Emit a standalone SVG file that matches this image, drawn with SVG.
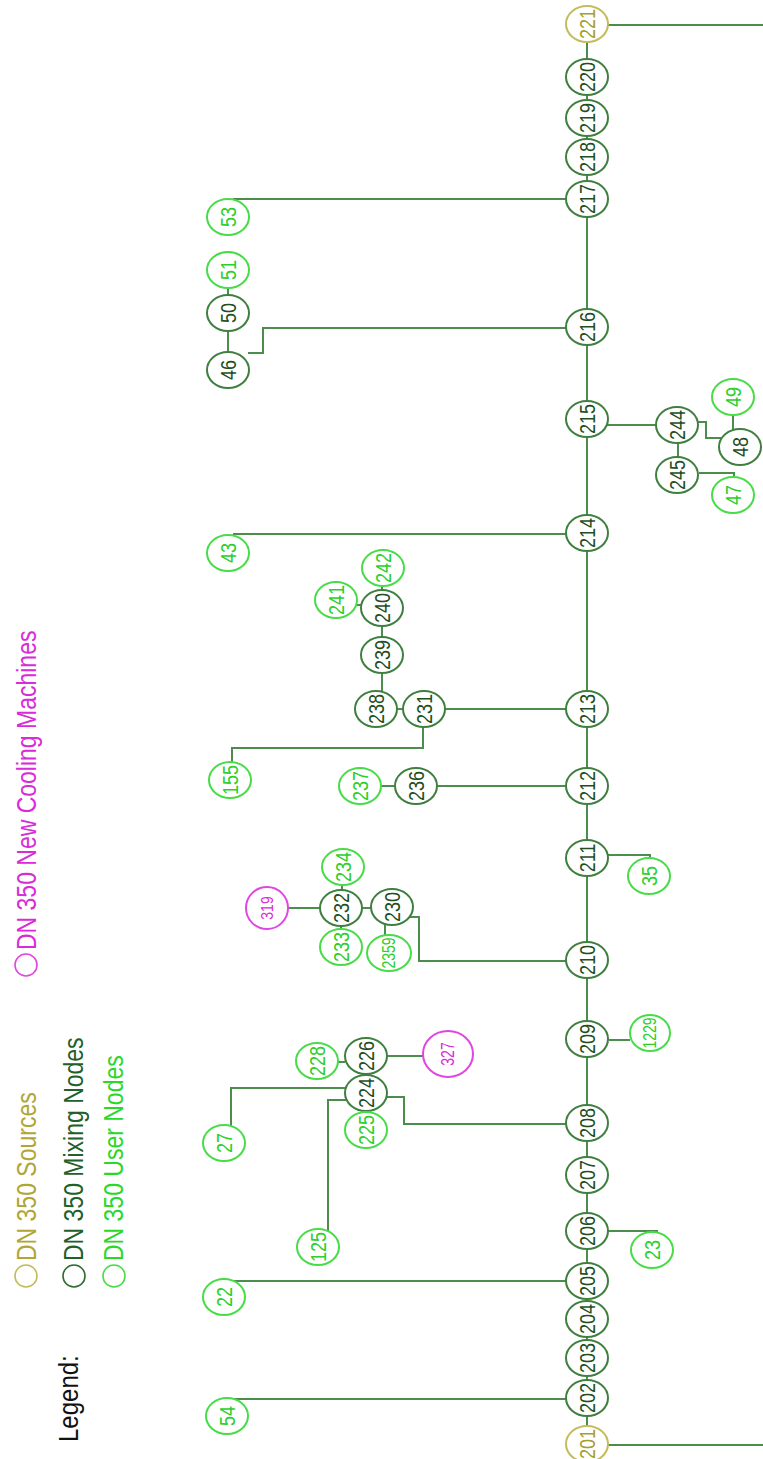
<svg xmlns="http://www.w3.org/2000/svg" width="763" height="1459" viewBox="0 0 763 1459">
<style>
  text { font-family: "Liberation Sans", Arial, sans-serif; }
  .node ellipse { fill: #ffffff; stroke-width: 2; }
  .node text { font-size: 18px; text-anchor: middle; dominant-baseline: central; }
  .node text.sm { font-size: 14px; }
  .m ellipse { stroke: #3f7f3f; }
  .m text { fill: #1f4f1f; }
  .u ellipse { stroke: #48dc48; }
  .u text { fill: #2ccf2c; }
  .s ellipse { stroke: #c4bc5a; }
  .s text { fill: #a89e2c; }
  .c ellipse { stroke: #e046e0; }
  .c text { fill: #d82cd8; }
  #connectors path { fill: none; stroke: #4c8c4c; stroke-width: 2; }
  .leg { font-size: 23px; }
  .legc { fill: none; stroke-width: 1.6; }
</style>

<g id="connectors">
  <path d="M587 24 V1444"/>
  <path d="M608 25 H763"/>
  <path d="M608 1445 H763"/>
  <path d="M566 199 H233"/>
  <path d="M566 328 H263 V353 H248"/>
  <path d="M228 352 V331"/>
  <path d="M228 295 V288"/>
  <path d="M607 425 H656"/>
  <path d="M697 422 H706 V438 H721"/>
  <path d="M733 430 V414"/>
  <path d="M678 443 V457"/>
  <path d="M699 473 H734 V478"/>
  <path d="M566 534 H233"/>
  <path d="M566 709 H445"/>
  <path d="M403 709 H397"/>
  <path d="M382 673 V692"/>
  <path d="M382 637 V626"/>
  <path d="M382 591 V585"/>
  <path d="M356 605 H362"/>
  <path d="M423 727 V748 H232 V764"/>
  <path d="M566 786 H437"/>
  <path d="M395 786 H381"/>
  <path d="M608 855 H650 V858"/>
  <path d="M566 961 H419 V917 H410"/>
  <path d="M371 908 H362"/>
  <path d="M320 908 H288"/>
  <path d="M342 891 V884"/>
  <path d="M341 925 V930"/>
  <path d="M385 924 V936"/>
  <path d="M609 1040 H630"/>
  <path d="M566 1124 H404 V1097 H386"/>
  <path d="M345 1088 H231 V1127"/>
  <path d="M346 1100 H328 V1231"/>
  <path d="M387 1056 H423"/>
  <path d="M345 1062 H337"/>
  <path d="M366 1110 V1113"/>
  <path d="M608 1231 H657 V1235"/>
  <path d="M566 1281 H228"/>
  <path d="M566 1399 H230"/>
</g>

<!-- main trunk -->
<g id="n221" class="node s"><ellipse cx="587" cy="24" rx="21" ry="18"/><text transform="translate(587 24) scale(1.25 1) rotate(-90)">221</text></g>
<g id="n220" class="node m"><ellipse cx="587" cy="77" rx="21" ry="18"/><text transform="translate(587 77) scale(1.25 1) rotate(-90)">220</text></g>
<g id="n219" class="node m"><ellipse cx="587" cy="118" rx="21" ry="18"/><text transform="translate(587 118) scale(1.25 1) rotate(-90)">219</text></g>
<g id="n218" class="node m"><ellipse cx="587" cy="157" rx="21" ry="18"/><text transform="translate(587 157) scale(1.25 1) rotate(-90)">218</text></g>
<g id="n217" class="node m"><ellipse cx="587" cy="199" rx="21" ry="18"/><text transform="translate(587 199) scale(1.25 1) rotate(-90)">217</text></g>
<g id="n216" class="node m"><ellipse cx="587" cy="327" rx="21" ry="18"/><text transform="translate(587 327) scale(1.25 1) rotate(-90)">216</text></g>
<g id="n215" class="node m"><ellipse cx="587" cy="419" rx="21" ry="18"/><text transform="translate(587 419) scale(1.25 1) rotate(-90)">215</text></g>
<g id="n214" class="node m"><ellipse cx="587" cy="533" rx="21" ry="18"/><text transform="translate(587 533) scale(1.25 1) rotate(-90)">214</text></g>
<g id="n213" class="node m"><ellipse cx="587" cy="709" rx="21" ry="18"/><text transform="translate(587 709) scale(1.25 1) rotate(-90)">213</text></g>
<g id="n212" class="node m"><ellipse cx="587" cy="786" rx="21" ry="18"/><text transform="translate(587 786) scale(1.25 1) rotate(-90)">212</text></g>
<g id="n211" class="node m"><ellipse cx="587" cy="858" rx="21" ry="18"/><text transform="translate(587 858) scale(1.25 1) rotate(-90)">211</text></g>
<g id="n210" class="node m"><ellipse cx="587" cy="960" rx="21" ry="18"/><text transform="translate(587 960) scale(1.25 1) rotate(-90)">210</text></g>
<g id="n209" class="node m"><ellipse cx="587" cy="1039" rx="21" ry="18"/><text transform="translate(587 1039) scale(1.25 1) rotate(-90)">209</text></g>
<g id="n208" class="node m"><ellipse cx="587" cy="1123" rx="21" ry="18"/><text transform="translate(587 1123) scale(1.25 1) rotate(-90)">208</text></g>
<g id="n207" class="node m"><ellipse cx="587" cy="1175" rx="21" ry="18"/><text transform="translate(587 1175) scale(1.25 1) rotate(-90)">207</text></g>
<g id="n206" class="node m"><ellipse cx="587" cy="1231" rx="21" ry="18"/><text transform="translate(587 1231) scale(1.25 1) rotate(-90)">206</text></g>
<g id="n205" class="node m"><ellipse cx="587" cy="1281" rx="21" ry="18"/><text transform="translate(587 1281) scale(1.25 1) rotate(-90)">205</text></g>
<g id="n204" class="node m"><ellipse cx="587" cy="1319" rx="21" ry="18"/><text transform="translate(587 1319) scale(1.25 1) rotate(-90)">204</text></g>
<g id="n203" class="node m"><ellipse cx="587" cy="1358" rx="21" ry="18"/><text transform="translate(587 1358) scale(1.25 1) rotate(-90)">203</text></g>
<g id="n202" class="node m"><ellipse cx="587" cy="1398" rx="21" ry="18"/><text transform="translate(587 1398) scale(1.25 1) rotate(-90)">202</text></g>
<g id="n201" class="node s"><ellipse cx="587" cy="1444" rx="21" ry="18"/><text transform="translate(587 1444) scale(1.25 1) rotate(-90)">201</text></g>

<!-- branch 217 / 216 -->
<g id="n53" class="node u"><ellipse cx="228" cy="217" rx="21" ry="18"/><text transform="translate(228 217) scale(1.25 1) rotate(-90)">53</text></g>
<g id="n51" class="node u"><ellipse cx="228" cy="270" rx="21" ry="18"/><text transform="translate(228 270) scale(1.25 1) rotate(-90)">51</text></g>
<g id="n50" class="node m"><ellipse cx="228" cy="313" rx="21" ry="18"/><text transform="translate(228 313) scale(1.25 1) rotate(-90)">50</text></g>
<g id="n46" class="node m"><ellipse cx="228" cy="370" rx="21" ry="18"/><text transform="translate(228 370) scale(1.25 1) rotate(-90)">46</text></g>

<!-- branch 215 -->
<g id="n244" class="node m"><ellipse cx="677" cy="425" rx="21" ry="18"/><text transform="translate(677 425) scale(1.25 1) rotate(-90)">244</text></g>
<g id="n245" class="node m"><ellipse cx="677" cy="475" rx="21" ry="18"/><text transform="translate(677 475) scale(1.25 1) rotate(-90)">245</text></g>
<g id="n48" class="node m"><ellipse cx="740" cy="447" rx="21" ry="18"/><text transform="translate(740 447) scale(1.25 1) rotate(-90)">48</text></g>
<g id="n49" class="node u"><ellipse cx="733" cy="397" rx="21" ry="18"/><text transform="translate(733 397) scale(1.25 1) rotate(-90)">49</text></g>
<g id="n47" class="node u"><ellipse cx="733" cy="495" rx="21" ry="18"/><text transform="translate(733 495) scale(1.25 1) rotate(-90)">47</text></g>

<!-- branch 214 -->
<g id="n43" class="node u"><ellipse cx="228" cy="553" rx="21" ry="18"/><text transform="translate(228 553) scale(1.25 1) rotate(-90)">43</text></g>

<!-- branch 213 -->
<g id="n242" class="node u"><ellipse cx="383" cy="568" rx="21" ry="18"/><text transform="translate(383 568) scale(1.25 1) rotate(-90)">242</text></g>
<g id="n241" class="node u"><ellipse cx="336" cy="600" rx="21" ry="18"/><text transform="translate(336 600) scale(1.25 1) rotate(-90)">241</text></g>
<g id="n240" class="node m"><ellipse cx="382" cy="608" rx="21" ry="18"/><text transform="translate(382 608) scale(1.25 1) rotate(-90)">240</text></g>
<g id="n239" class="node m"><ellipse cx="382" cy="655" rx="21" ry="18"/><text transform="translate(382 655) scale(1.25 1) rotate(-90)">239</text></g>
<g id="n238" class="node m"><ellipse cx="376" cy="709" rx="21" ry="18"/><text transform="translate(376 709) scale(1.25 1) rotate(-90)">238</text></g>
<g id="n231" class="node m"><ellipse cx="424" cy="709" rx="21" ry="18"/><text transform="translate(424 709) scale(1.25 1) rotate(-90)">231</text></g>
<g id="n155" class="node u"><ellipse cx="230" cy="780" rx="21" ry="18"/><text transform="translate(230 780) scale(1.25 1) rotate(-90)">155</text></g>

<!-- branch 212 -->
<g id="n237" class="node u"><ellipse cx="360" cy="786" rx="21" ry="18"/><text transform="translate(360 786) scale(1.25 1) rotate(-90)">237</text></g>
<g id="n236" class="node m"><ellipse cx="416" cy="786" rx="21" ry="18"/><text transform="translate(416 786) scale(1.25 1) rotate(-90)">236</text></g>

<!-- branch 211 -->
<g id="n35" class="node u"><ellipse cx="649" cy="876" rx="21" ry="18"/><text transform="translate(649 876) scale(1.25 1) rotate(-90)">35</text></g>

<!-- branch 210 -->
<g id="n319" class="node c"><ellipse cx="267" cy="908" rx="21" ry="21"/><text class="sm" transform="translate(267 908) scale(1.2 1) rotate(-90)">319</text></g>
<g id="n234" class="node u"><ellipse cx="343" cy="867" rx="21" ry="18"/><text transform="translate(343 867) scale(1.25 1) rotate(-90)">234</text></g>
<g id="n232" class="node m"><ellipse cx="341" cy="908" rx="21" ry="18"/><text transform="translate(341 908) scale(1.25 1) rotate(-90)">232</text></g>
<g id="n233" class="node u"><ellipse cx="341" cy="947" rx="21" ry="18"/><text transform="translate(341 947) scale(1.25 1) rotate(-90)">233</text></g>
<g id="n230" class="node m"><ellipse cx="392" cy="907" rx="21" ry="18"/><text transform="translate(392 907) scale(1.25 1) rotate(-90)">230</text></g>
<g id="n2359" class="node u"><ellipse cx="389" cy="953" rx="22" ry="18"/><text class="sm" transform="translate(389 953) scale(1.25 1) rotate(-90)">2359</text></g>

<!-- branch 209 -->
<g id="n1229" class="node u"><ellipse cx="650" cy="1033" rx="20" ry="18"/><text class="sm" transform="translate(650 1033) scale(1.25 1) rotate(-90)">1229</text></g>

<!-- branch 208 -->
<g id="n327" class="node c"><ellipse cx="448" cy="1054" rx="25" ry="23"/><text class="sm" transform="translate(448 1054) scale(1.25 1) rotate(-90)">327</text></g>
<g id="n228" class="node u"><ellipse cx="317" cy="1061" rx="21" ry="18"/><text transform="translate(317 1061) scale(1.25 1) rotate(-90)">228</text></g>
<g id="n226" class="node m"><ellipse cx="366" cy="1056" rx="21" ry="18"/><text transform="translate(366 1056) scale(1.25 1) rotate(-90)">226</text></g>
<g id="n224" class="node m"><ellipse cx="366" cy="1093" rx="21" ry="18"/><text transform="translate(366 1093) scale(1.25 1) rotate(-90)">224</text></g>
<g id="n225" class="node u"><ellipse cx="366" cy="1130" rx="21" ry="18"/><text transform="translate(366 1130) scale(1.25 1) rotate(-90)">225</text></g>
<g id="n27" class="node u"><ellipse cx="224" cy="1143" rx="21" ry="18"/><text transform="translate(224 1143) scale(1.25 1) rotate(-90)">27</text></g>
<g id="n125" class="node u"><ellipse cx="318" cy="1247" rx="21" ry="18"/><text transform="translate(318 1247) scale(1.25 1) rotate(-90)">125</text></g>

<!-- branches 206, 205, 202 -->
<g id="n23" class="node u"><ellipse cx="652" cy="1250" rx="21" ry="18"/><text transform="translate(652 1250) scale(1.25 1) rotate(-90)">23</text></g>
<g id="n22" class="node u"><ellipse cx="224" cy="1297" rx="21" ry="18"/><text transform="translate(224 1297) scale(1.25 1) rotate(-90)">22</text></g>
<g id="n54" class="node u"><ellipse cx="227" cy="1416" rx="21" ry="18"/><text transform="translate(227 1416) scale(1.25 1) rotate(-90)">54</text></g>

<!-- legend -->
<g id="legend">
  <text transform="translate(78 1442) scale(1.15 1) rotate(-90)" style="font-size:24px" fill="#111111">Legend:</text>
  <ellipse class="legc" cx="26" cy="1276" rx="11" ry="11" stroke="#c4bc5a"/>
  <text class="leg" transform="translate(36 1261) scale(1.22 1) rotate(-90)" fill="#b0a636">DN 350 Sources</text>
  <ellipse class="legc" cx="74" cy="1276" rx="11" ry="11" stroke="#2f6a2f"/>
  <text class="leg" transform="translate(83 1261) scale(1.22 1) rotate(-90)" fill="#22602a">DN 350 Mixing Nodes</text>
  <ellipse class="legc" cx="114" cy="1276" rx="11" ry="11" stroke="#48dc48"/>
  <text class="leg" transform="translate(123 1261) scale(1.22 1) rotate(-90)" fill="#2ad82a">DN 350 User Nodes</text>
  <ellipse class="legc" cx="26" cy="965" rx="11" ry="11" stroke="#e046e0"/>
  <text class="leg" transform="translate(36 950) scale(1.22 1) rotate(-90)" fill="#d82cd8">DN 350 New Cooling Machines</text>
</g>
</svg>
